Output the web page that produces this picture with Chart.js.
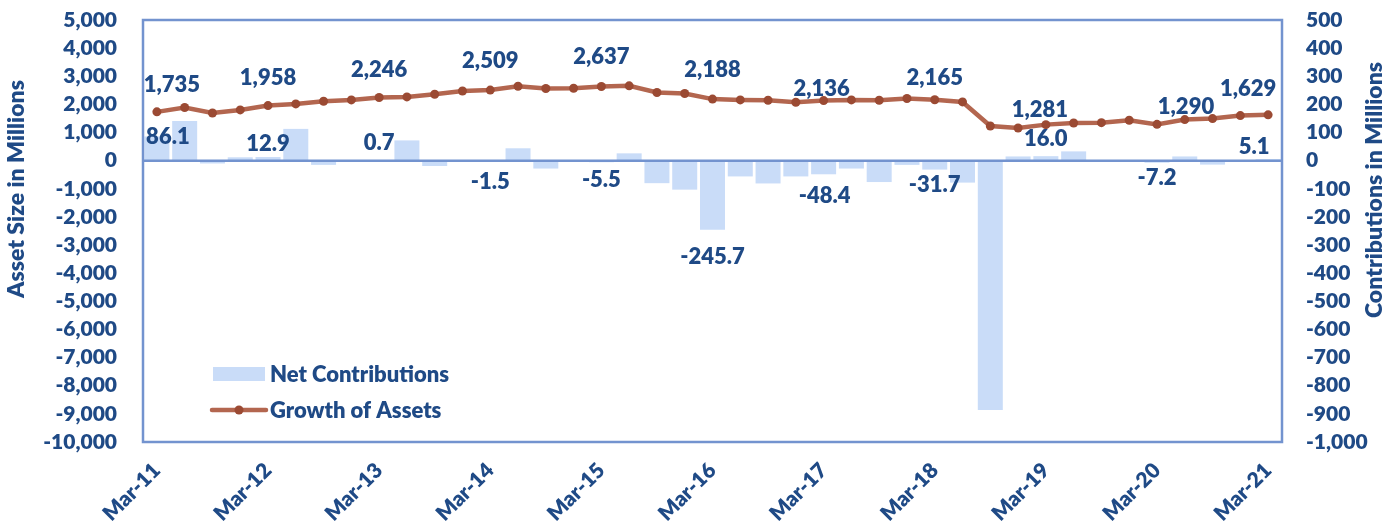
<!DOCTYPE html>
<html>
<head>
<meta charset="utf-8">
<script src="https://cdn.jsdelivr.net/npm/chart.js@4"></script>
<style>
  html, body { margin: 0; padding: 0; background: #fff; }
  #chart { display: block; }
</style>
</head>
<body>
<canvas id="chart" width="1398" height="529"></canvas>
<script>
// Quarterly periods, Mar-11 .. Mar-21
const quarterLabels = [
    'Mar-11', 'Jun-11', 'Sep-11', 'Dec-11',
    'Mar-12', 'Jun-12', 'Sep-12', 'Dec-12',
    'Mar-13', 'Jun-13', 'Sep-13', 'Dec-13',
    'Mar-14', 'Jun-14', 'Sep-14', 'Dec-14',
    'Mar-15', 'Jun-15', 'Sep-15', 'Dec-15',
    'Mar-16', 'Jun-16', 'Sep-16', 'Dec-16',
    'Mar-17', 'Jun-17', 'Sep-17', 'Dec-17',
    'Mar-18', 'Jun-18', 'Sep-18', 'Dec-18',
    'Mar-19', 'Jun-19', 'Sep-19', 'Dec-19',
    'Mar-20', 'Jun-20', 'Sep-20', 'Dec-20',
    'Mar-21'
];

// Growth of Assets (left axis, millions)
const assetSize = [
    1735, 1888, 1696, 1803,
    1958, 2017, 2113, 2160,
    2246, 2266, 2362, 2475,
    2509, 2647, 2565, 2576,
    2637, 2659, 2422, 2387,
    2188, 2160, 2148, 2077,
    2136, 2160, 2148, 2209,
    2165, 2088, 1233, 1161,
    1281, 1340, 1352, 1436,
    1290, 1460, 1496, 1603,
    1629
];

// Net Contributions (right axis, millions)
const netContributions = [
    86.1, 141, -10, 12,
    12.9, 113, -15, 0,
    0.7, 72, -19, 0,
    -1.5, 44, -28, 0,
    -5.5, 26, -80, -103,
    -245.7, -56, -81, -56,
    -48.4, -28, -76, -15,
    -31.7, -78, -886, 15,
    16.0, 33, 0, 0,
    -7.2, 15, -14, 0,
    5.1
];

// annual points that carry a data label
const labelledIdx = [0, 4, 8, 12, 16, 20, 24, 28, 32, 36, 40];

// label nudges (px) as placed in the original
const assetLabelShift = [[15, -27], [0, -28], [0, -28], [0, -29], [0, -30], [0, -29], [-2, -12], [0, -22], [-6, -15], [29, -17], [-20, -26]];
const contribLabelShift = [[11, 0], [0, -13], [0, -18], [0, 21], [0, 18], [0, 27], [1, 22], [0, 15], [0, -17], [0, 15], [-14, -12]];

const TEXT = '#1F4A86';
const AXIS = '#7393CF';
const BAR = '#C9DCF8';
const LINE = '#B3664F';
const DOT = '#9B4A33';
const FONT = 'Lato, "Open Sans", sans-serif';
const WEIGHT = '800';

const tickFont = { family: FONT, size: 21, weight: WEIGHT };

// keep the plot frame where the original has it
function fixWidth(w) {
    return s => {
        s.width = w;
        s.paddingTop = 0;
        s.paddingBottom = 0;
    };
}

// frame, zero line, data labels, axis titles and legend
const decorations = {
    id: 'decorations',
    afterDatasetsDraw(chart) {
        const { ctx, chartArea: a, scales } = chart;
        ctx.save();

        // zero line + plot frame
        const y0 = scales.y.getPixelForValue(0);
        ctx.strokeStyle = AXIS;
        ctx.lineWidth = 2.5;
        ctx.beginPath();
        ctx.moveTo(a.left, y0);
        ctx.lineTo(a.right, y0);
        ctx.stroke();
        ctx.strokeRect(a.left, a.top, a.right - a.left, a.bottom - a.top);

        // data labels
        ctx.font = WEIGHT + ' 22px ' + FONT;
        ctx.fillStyle = TEXT;
        ctx.textAlign = 'center';
        ctx.textBaseline = 'middle';
        const lineMeta = chart.getDatasetMeta(0);
        const barMeta = chart.getDatasetMeta(1);
        labelledIdx.forEach((i, k) => {
            const p = lineMeta.data[i];
            const s = assetLabelShift[k];
            ctx.fillText(assetSize[i].toLocaleString('en-US'), p.x + s[0], p.y + s[1]);

            const b = barMeta.data[i];
            const t = contribLabelShift[k];
            ctx.fillText(netContributions[i].toFixed(1), b.x + t[0], b.y + t[1]);
        });

        // axis titles
        ctx.font = WEIGHT + ' 23px ' + FONT;
        ctx.save();
        ctx.translate(17, 189);
        ctx.rotate(-Math.PI / 2);
        ctx.fillText('Asset Size in Millions', 0, 0);
        ctx.restore();
        ctx.save();
        ctx.translate(1375, 190);
        ctx.rotate(-Math.PI / 2);
        ctx.fillText('Contributions in Millions', 0, 0);
        ctx.restore();

        // legend
        const lx = a.left + 70;
        ctx.fillStyle = BAR;
        ctx.fillRect(lx, 367, 52, 14);
        ctx.strokeStyle = LINE;
        ctx.lineWidth = 4.5;
        ctx.lineCap = 'round';
        ctx.beginPath();
        ctx.moveTo(lx - 1, 410);
        ctx.lineTo(lx + 53, 410);
        ctx.stroke();
        ctx.fillStyle = DOT;
        ctx.beginPath();
        ctx.arc(lx + 26, 410, 4.5, 0, Math.PI * 2);
        ctx.fill();
        ctx.fillStyle = TEXT;
        ctx.textAlign = 'left';
        ctx.font = WEIGHT + ' 22px ' + FONT;
        ctx.fillText('Net Contributions', lx + 57, 375);
        ctx.fillText('Growth of Assets', lx + 57, 411);

        ctx.restore();
    }
};

new Chart(document.getElementById('chart'), {
    type: 'bar',
    data: {
        labels: quarterLabels,
        datasets: [
            {
                type: 'line',
                label: 'Growth of Assets',
                data: assetSize,
                yAxisID: 'y',
                order: 0,
                borderColor: LINE,
                borderWidth: 4.5,
                pointRadius: 4.5,
                pointBackgroundColor: DOT,
                pointBorderWidth: 0,
                tension: 0
            },
            {
                type: 'bar',
                label: 'Net Contributions',
                data: netContributions,
                yAxisID: 'y1',
                order: 1,
                backgroundColor: BAR,
                barPercentage: 0.9,
                categoryPercentage: 1
            }
        ]
    },
    options: {
        responsive: false,
        animation: false,
        layout: { padding: { top: 20, left: 0, right: 0, bottom: 0 } },
        plugins: {
            legend: { display: false },
            tooltip: { enabled: false }
        },
        scales: {
            x: {
                grid: { display: false, drawTicks: false },
                border: { display: false },
                ticks: {
                    autoSkip: false,
                    minRotation: 45,
                    maxRotation: 45,
                    padding: 16,
                    color: TEXT,
                    font: tickFont,
                    callback(v, i) { return i % 4 === 0 ? this.getLabelForValue(v) : ''; }
                },
                afterFit(s) {
                    s.height = 87;
                    s.paddingLeft = 0;
                    s.paddingRight = 0;
                }
            },
            y: {
                position: 'left',
                min: -10000,
                max: 5000,
                grid: { display: false, drawTicks: false },
                border: { display: false },
                ticks: {
                    autoSkip: false,
                    stepSize: 1000,
                    padding: 26,
                    color: TEXT,
                    font: tickFont,
                    callback: v => v.toLocaleString('en-US')
                },
                afterFit: fixWidth(143)
            },
            y1: {
                position: 'right',
                min: -1000,
                max: 500,
                grid: { display: false, drawTicks: false },
                border: { display: false },
                ticks: {
                    autoSkip: false,
                    stepSize: 100,
                    padding: 24,
                    color: TEXT,
                    font: tickFont,
                    callback: v => v.toLocaleString('en-US')
                },
                afterFit: fixWidth(116)
            }
        }
    },
    plugins: [decorations]
});
</script>
</body>
</html>
